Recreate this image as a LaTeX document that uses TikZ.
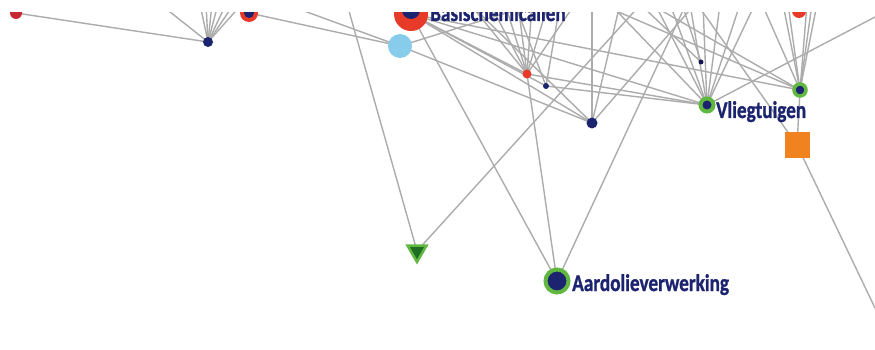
\documentclass[tikz,border=0pt]{standalone}
\usepackage{fontspec}
\setmainfont{Carlito}
\newfontfamily\lblfont{Carlito}[UprightFont=*-Bold, FakeBold=1.2]
\usetikzlibrary{shapes.geometric}
\definecolor{navy}{RGB}{28,36,112}
\definecolor{nodered}{RGB}{232,58,40}
\definecolor{darkred}{RGB}{200,40,50}
\definecolor{ringgreen}{RGB}{96,184,64}
\definecolor{darkgreen}{RGB}{30,110,35}
\definecolor{lightblue}{RGB}{135,205,235}
\definecolor{nodeorange}{RGB}{240,130,32}
\definecolor{edgegray}{RGB}{172,172,172}
\begin{document}
\begin{tikzpicture}[x=1pt,y=-1pt,
  edge/.style={draw=edgegray, line width=1.4pt},
  dot/.style={circle, inner sep=0pt, fill=#1},
  ring/.style={circle, inner sep=0pt, fill=navy, draw=#1},
  lbl/.style={anchor=base west, inner sep=0pt, text=navy, font=\fontsize{24}{24}\selectfont\lblfont}]
\fill[white] (0,0) rectangle (875,350);
\useasboundingbox (0,0) rectangle (875,350);
% centres
\coordinate (TL) at (16,13);
\coordinate (A) at (208,42);
\coordinate (B2) at (249,13);
\coordinate (BC) at (411,14);
\coordinate (L) at (400,46);
\coordinate (R) at (527,74);
\coordinate (s) at (546,86);
\coordinate (N) at (592,123);
\coordinate (t) at (701,62);
\coordinate (V) at (707,105);
\coordinate (G) at (800,90);
\coordinate (RT) at (799,11);
\coordinate (O) at (797,145);
\coordinate (T) at (417,251);
\coordinate (AV) at (557,281);
\coordinate (E1) at (875,17);
\coordinate (E2) at (875,308);
% top exits
\foreach \x in {160,200,206,212,218,226,234,242,285,347,470,490,505,515,518,532,535,548,560,575,592,600,610,620,640,641,650,655,670,682,686,690,695,697,703,720,740,755,762,783,788,807,812,817}
  \coordinate (p\x) at (\x,4);
% edges
\foreach \a/\b in {TL/A,A/p160,A/p200,A/p206,A/p212,A/p218,A/p226,A/p234,A/p242,
  B2/L,p285/L,p347/T,BC/AV,L/p535,L/N,BC/R,BC/N,BC/s,BC/V,BC/G,
  R/p470,R/p490,R/p505,R/p518,R/p532,R/p548,R/p575,R/V,R/AV,
  s/V,s/p515,s/p560,N/p592,N/p470,N/p695,N/p620,T/p641,AV/p686,t/p640,t/p682,
  V/p610,V/p655,V/p670,V/p690,V/p703,V/p720,V/p740,V/p755,V/E1,
  G/p783,G/p788,G/p807,G/p812,G/p817,G/p600,G/p650,G/p762,G/O,p697/O,O/E2}
  \draw[edge] (\a) -- (\b);
% nodes
\node[dot=darkred, minimum size=12pt] (nTL) at (TL) {};
\node[dot=navy, minimum size=10pt] (nA) at (A) {};
\node[dot=nodered, minimum size=18pt] (nB2) at (B2) {};
\node[dot=navy, minimum size=10pt] (nB2c) at (B2) {};
\node[dot=nodered, minimum size=34pt] (nBC) at (BC) {};
\node[dot=navy, minimum size=18pt] (nBCc) at (411,10) {};
\node[dot=lightblue, minimum size=24pt] (nL) at (L) {};
\node[dot=nodered, minimum size=9pt] (nR) at (R) {};
\node[dot=navy, minimum size=6pt] (ns) at (s) {};
\node[dot=navy, minimum size=11pt] (nN) at (N) {};
\node[dot=navy!70!black, minimum size=5pt] (nt) at (t) {};
\node[ring=ringgreen, line width=4pt, minimum size=13pt] (nV) at (V) {};
\node[ring=ringgreen, line width=3.5pt, minimum size=12pt] (nG) at (G) {};
\node[dot=nodered, minimum size=14pt] (nRT) at (RT) {};
\node[fill=nodeorange, minimum size=25pt, inner sep=0pt] (nO) at (O) {};
\node[regular polygon, regular polygon sides=3, shape border rotate=180, fill=darkgreen, draw=ringgreen, line width=2.5pt, minimum size=22pt, inner sep=0pt] (nT) at (T) {};
\node[ring=ringgreen, line width=4pt, minimum size=23pt] (nAV) at (AV) {};
% labels
\node[lbl] (lBC) at (430,21) {\scalebox{0.8}[1]{Basischemicaliën}};
\node[lbl] (lV) at (716,118) {\scalebox{0.8}[1]{Vliegtuigen}};
\node[lbl] (lAV) at (572,291) {\scalebox{0.8}[1]{Aardolieverwerking}};
% top white band
\fill[white] (0,0) rectangle (875,12.5);
\end{tikzpicture}
\end{document}
